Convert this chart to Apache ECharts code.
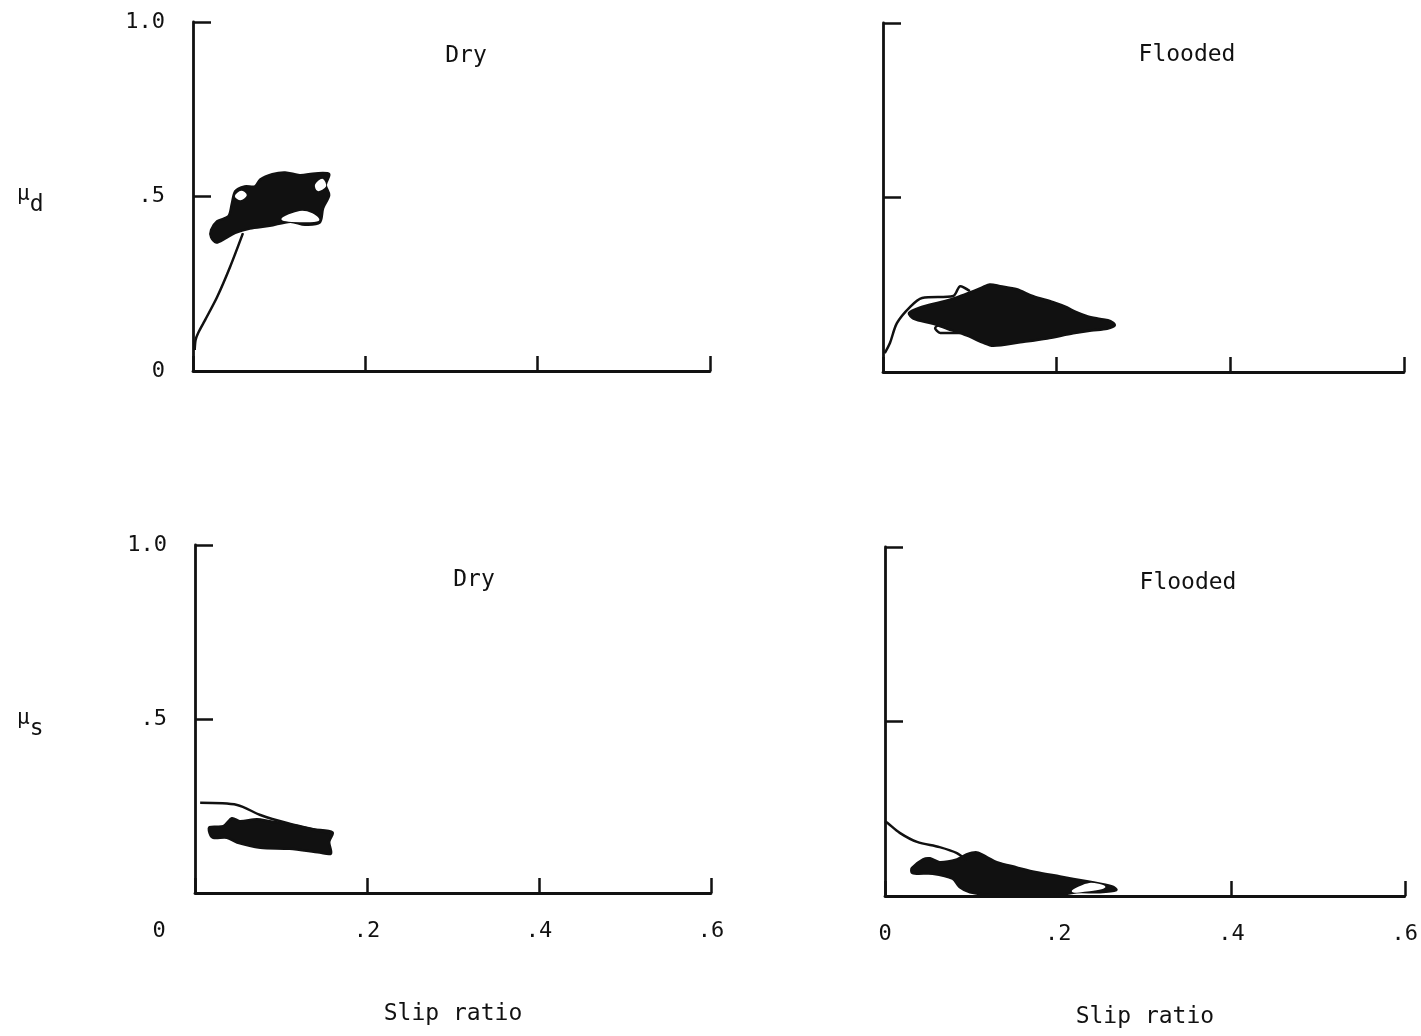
<!DOCTYPE html>
<html>
<head>
<meta charset="utf-8">
<script src="https://cdn.jsdelivr.net/npm/echarts@6/dist/echarts.min.js"></script>
<style>html,body{margin:0;padding:0;background:#fff}#c{width:1421px;height:1036px}</style>
</head>
<body>
<div id="c"></div>
<script>
// ---- tick labels ----
const xTickValues = [0, 0.2, 0.4, 0.6];
const xTickLabels = ['0', '.2', '.4', '.6'];
const yTickValues = [0, 0.5, 1.0];
const yTickLabels = ['0', '.5', '1.0'];
const panelTitles = ['Dry', 'Flooded', 'Dry', 'Flooded'];
const xAxisTitle = 'Slip ratio';

// ---- Top-left: mu_d, Dry ----
const dryDBlobX = [0.021,0.028,0.041,0.045,0.049,0.060,0.072,0.078,0.092,0.107,0.124,0.142,0.158,0.154,0.158,0.151,0.147,0.130,0.113,0.089,0.066,0.049,0.037,0.027,0.021];
const dryDBlobY = [0.404,0.429,0.443,0.478,0.515,0.529,0.529,0.549,0.564,0.569,0.561,0.566,0.564,0.533,0.504,0.467,0.425,0.419,0.428,0.416,0.408,0.396,0.379,0.368,0.384];
const dryDHole1X = [0.104,0.124,0.138,0.145,0.124];
const dryDHole1Y = [0.435,0.455,0.449,0.433,0.430];
const dryDHole2X = [0.143,0.150,0.153,0.145];
const dryDHole2Y = [0.533,0.547,0.530,0.519];
const dryDHole3X = [0.050,0.056,0.061,0.055];
const dryDHole3Y = [0.501,0.513,0.504,0.493];
const dryDTraceX = [0.002,0.003,0.006,0.014,0.028,0.043,0.058];
const dryDTraceY = [0.060,0.089,0.109,0.146,0.212,0.298,0.395];

// ---- Top-right: mu_d, Flooded ----
const floDBlobX = [0.030,0.043,0.066,0.085,0.100,0.115,0.123,0.135,0.154,0.173,0.196,0.212,0.222,0.235,0.250,0.262,0.267,0.258,0.240,0.219,0.189,0.158,0.127,0.115,0.097,0.074,0.058,0.035];
const floDBlobY = [0.169,0.185,0.200,0.214,0.228,0.243,0.251,0.246,0.237,0.217,0.200,0.185,0.172,0.160,0.152,0.146,0.134,0.124,0.119,0.111,0.096,0.085,0.075,0.084,0.104,0.124,0.138,0.153];
const floDTraceX = [0.002,0.008,0.016,0.031,0.045,0.081,0.089,0.100];
const floDTraceY = [0.054,0.083,0.140,0.186,0.212,0.218,0.246,0.232];
const floDLoopX = [0.074,0.060,0.066,0.089];
const floDLoopY = [0.143,0.126,0.112,0.112];

// ---- Bottom-left: mu_s, Dry ----
const drySBlobX = [0.017,0.033,0.043,0.052,0.072,0.087,0.110,0.137,0.160,0.156,0.158,0.145,0.110,0.076,0.049,0.037,0.021,0.017];
const drySBlobY = [0.189,0.192,0.215,0.206,0.212,0.206,0.197,0.183,0.174,0.147,0.113,0.116,0.127,0.130,0.145,0.159,0.159,0.172];
const drySTraceX = [0.006,0.049,0.076,0.107,0.157];
const drySTraceY = [0.259,0.253,0.224,0.201,0.172];

// ---- Bottom-right: mu_s, Flooded ----
const floSBlobX = [0.031,0.044,0.052,0.063,0.083,0.094,0.106,0.118,0.129,0.152,0.175,0.202,0.233,0.263,0.267,0.248,0.221,0.202,0.124,0.098,0.086,0.078,0.055,0.037,0.031];
const floSBlobY = [0.080,0.105,0.108,0.097,0.105,0.119,0.125,0.111,0.097,0.082,0.068,0.056,0.042,0.027,0.017,0.011,0.011,0.003,0.003,0.011,0.026,0.050,0.064,0.064,0.067];
const floSHoleX = [0.217,0.236,0.253,0.236];
const floSHoleY = [0.014,0.034,0.026,0.017];
const floSTraceX = [0.000,0.003,0.017,0.037,0.063,0.083,0.094];
const floSTraceY = [0.214,0.209,0.181,0.155,0.140,0.123,0.103];

const FONT = '"DejaVu Sans Mono", "Liberation Mono", monospace';
const INK = '#111';

function zip(xs, ys) { return xs.map((x, i) => [x, ys[i]]); }
function fmtX(v) { const i = xTickValues.findIndex(t => Math.abs(t - v) < 1e-6); return i >= 0 ? xTickLabels[i] : ''; }
function fmtY(v) { const i = yTickValues.findIndex(t => Math.abs(t - v) < 1e-6); return i >= 0 ? yTickLabels[i] : ''; }

const grids = [
  {left: 193, top: 22, width: 517, height: 349},
  {left: 883, top: 23, width: 521, height: 349},
  {left: 195, top: 545, width: 516, height: 348},
  {left: 885, top: 547, width: 521, height: 349}
];

function xAxisFor(i) {
  const bottom = i >= 2;
  const ax = {
    gridIndex: i, type: 'value', min: 0, max: 0.6, interval: 0.2,
    axisLine: {show: true, lineStyle: {color: INK, width: 2.8}},
    axisTick: {show: true, inside: true, length: 15, lineStyle: {color: INK, width: 2.5}},
    splitLine: {show: false},
    axisLabel: {
      show: bottom, margin: 27, fontFamily: FONT, fontSize: 22, color: INK,
      formatter: v => {
        const s = fmtX(v);
        if (i === 2 && Math.abs(v) < 1e-6) return '{zero|' + s + '}';
        return s;
      },
      rich: {zero: {fontFamily: FONT, fontSize: 22, color: INK, padding: [0, 72, 0, 0]}}
    }
  };
  if (bottom) {
    ax.name = xAxisTitle;
    ax.nameLocation = 'middle';
    ax.nameGap = 110;
    ax.nameTextStyle = {fontFamily: FONT, fontSize: 23, color: INK};
  }
  return ax;
}
function yAxisFor(i) {
  const left = (i === 0 || i === 2);
  return {
    gridIndex: i, type: 'value', min: 0, max: 1.0, interval: 0.5,
    axisLine: {show: true, lineStyle: {color: INK, width: 2.8}},
    axisTick: {show: true, inside: true, length: 18, lineStyle: {color: INK, width: 2.5}},
    splitLine: {show: false},
    axisLabel: {
      show: left, margin: 28, fontFamily: FONT, fontSize: 22, color: INK,
      formatter: v => (i === 2 && Math.abs(v) < 1e-6) ? '' : fmtY(v)
    }
  };
}

function polySeries(gi, xs, ys, color) {
  return {
    type: 'custom', coordinateSystem: 'cartesian2d', xAxisIndex: gi, yAxisIndex: gi,
    silent: true, clip: false,
    data: zip(xs, ys),
    renderItem: function (params, api) {
      if (params.dataIndex !== 0) return null;
      const pts = xs.map((x, k) => api.coord([x, ys[k]]));
      return {
        type: 'polygon',
        shape: {points: pts, smooth: 0.3},
        style: {fill: color, stroke: color, lineWidth: 2.5}
      };
    },
    z: color === '#fff' ? 4 : 3
  };
}
function lineSeries(gi, xs, ys) {
  return {
    type: 'line', xAxisIndex: gi, yAxisIndex: gi, data: zip(xs, ys),
    showSymbol: false, smooth: 0.3, silent: true,
    lineStyle: {color: INK, width: 2.5}, z: 5
  };
}

const series = [
  polySeries(0, dryDBlobX, dryDBlobY, INK),
  polySeries(0, dryDHole1X, dryDHole1Y, '#fff'),
  polySeries(0, dryDHole2X, dryDHole2Y, '#fff'),
  polySeries(0, dryDHole3X, dryDHole3Y, '#fff'),
  lineSeries(0, dryDTraceX, dryDTraceY),
  polySeries(1, floDBlobX, floDBlobY, INK),
  lineSeries(1, floDTraceX, floDTraceY),
  lineSeries(1, floDLoopX, floDLoopY),
  polySeries(2, drySBlobX, drySBlobY, INK),
  lineSeries(2, drySTraceX, drySTraceY),
  polySeries(3, floSBlobX, floSBlobY, INK),
  polySeries(3, floSHoleX, floSHoleY, '#fff'),
  lineSeries(3, floSTraceX, floSTraceY)
];

const titlePos = [[466, 56], [1187, 55], [474, 580], [1188, 583]];
const graphic = panelTitles.map((t, i) => ({
  type: 'text', x: titlePos[i][0], y: titlePos[i][1], silent: true,
  style: {text: t, fill: INK, font: '23px ' + FONT, textAlign: 'center', textVerticalAlign: 'middle'}
}));
graphic.push({
  type: 'text', x: 17, y: 198, silent: true,
  style: {text: '{m|μ}{s|d}', fill: INK, textVerticalAlign: 'middle',
    rich: {m: {font: '21px ' + FONT, fill: INK, padding: [0, 0, 6, 0]}, s: {font: '23px ' + FONT, fill: INK, padding: [14, 0, 0, 0]}}}
});
graphic.push({
  type: 'text', x: 17, y: 722, silent: true,
  style: {text: '{m|μ}{s|s}', fill: INK, textVerticalAlign: 'middle',
    rich: {m: {font: '21px ' + FONT, fill: INK, padding: [0, 0, 6, 0]}, s: {font: '23px ' + FONT, fill: INK, padding: [14, 0, 0, 0]}}}
});

const chart = echarts.init(document.getElementById('c'), null, {renderer: 'canvas'});
chart.setOption({
  backgroundColor: '#fff',
  animation: false,
  grid: grids,
  xAxis: [0, 1, 2, 3].map(xAxisFor),
  yAxis: [0, 1, 2, 3].map(yAxisFor),
  series: series,
  graphic: graphic
});
</script>
</body>
</html>
